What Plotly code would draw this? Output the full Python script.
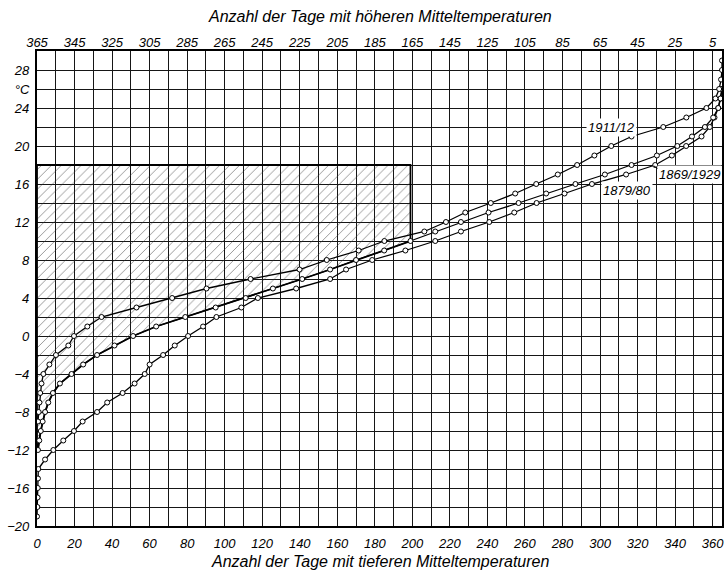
import plotly.graph_objects as go

# Mean daily temperature thresholds (°C) and number of days below each threshold
temps_1911 = list(range(-9, 30))
days_1911 = [0.5, 0.9, 1.3, 1.7, 2.4, 3.4, 6.6, 10.1, 16.7, 19.7, 26.8, 34.4, 53.0, 72.0,
             90.3, 113.8, 139.9, 154.4, 171.4, 185.1, 206.4, 217.9, 228.2, 241.8, 254.8,
             266.0, 277.5, 287.8, 297.0, 306.0, 316.8, 333.7, 346.0, 356.7, 361.5, 363.5,
             364.5, 365.0, 365.0]

temps_mean = list(range(-12, 27))
days_mean = [0.5, 1.2, 2.0, 3.0, 4.3, 6.0, 8.5, 12.2, 18.4, 24.6, 32.0, 41.3, 51.2, 63.5,
             79.0, 95.2, 111.2, 125.7, 141.3, 156.2, 170.0, 185.0, 199.0, 212.2, 225.9,
             240.6, 256.6, 271.3, 286.9, 302.6, 316.8, 330.3, 341.2, 349.0, 355.9, 360.3,
             363.0, 364.2, 365.0]

temps_1879 = list(range(-19, 27))
days_1879 = [0.0, 0.2, 0.3, 0.4, 0.5, 0.7, 4.3, 8.7, 14.0, 19.7, 24.3, 32.0, 37.4, 45.6,
             52.0, 57.4, 60.0, 67.2, 73.4, 80.5, 88.5, 95.6, 108.9, 117.7, 138.1, 156.2,
             164.7, 178.6, 196.3, 212.2, 225.9, 241.0, 254.3, 266.2, 281.1, 295.7, 313.9,
             329.4, 338.3, 345.9, 354.1, 358.5, 361.0, 363.0, 364.3, 365.0]

# Heating: room temperature and heating limit
ROOM_TEMP = 18
HEAT_LIMIT = 10

# Axis tick labels
bottom_ticks = list(range(0, 361, 20))
top_ticklabels = [str(365 - d) for d in bottom_ticks]
y_ticks = [-20, -16, -12, -8, -4, 0, 4, 8, 12, 16, 20, 24, 26, 28]
y_ticklabels = ["\u221220", "\u221216", "\u221212", "\u22128", "\u22124", "0", "4", "8",
                "12", "16", "20", "24", "°C", "28"]

FONT = dict(family="Liberation Sans Narrow, Liberation Sans, DejaVu Sans", color="black",
            style="italic")

fig = go.Figure()

# Hatched degree-day area: between room temperature and the mean curve
heat_idx = temps_mean.index(HEAT_LIMIT)
heat_days = days_mean[heat_idx]
poly_x = [0, heat_days] + days_mean[:heat_idx + 1][::-1] + [0, 0]
poly_y = [ROOM_TEMP, ROOM_TEMP] + temps_mean[:heat_idx + 1][::-1] + [temps_mean[0], ROOM_TEMP]
fig.add_trace(go.Scatter(
    x=poly_x, y=poly_y, mode="lines", fill="toself",
    fillcolor="rgba(0,0,0,0)",
    fillpattern=dict(shape="/", fgcolor="#333", bgcolor="rgba(0,0,0,0)",
                     size=7, solidity=0.14),
    line=dict(color="black", width=1.8), hoverinfo="skip", showlegend=False))

curve_style = dict(mode="lines+markers",
                   line=dict(color="black", width=1.3),
                   marker=dict(symbol="circle", size=5, color="white",
                               line=dict(color="black", width=1)),
                   showlegend=False)

for name, xs, ys in [("1879/80", days_1879, temps_1879),
                     ("1869/1929", days_mean, temps_mean),
                     ("1911/12", days_1911, temps_1911)]:
    fig.add_trace(go.Scatter(x=xs, y=ys, name=name, **curve_style))

# invisible trace to carry the upper day axis
fig.add_trace(go.Scatter(x=[0, 365], y=[0, 0], xaxis="x2", mode="markers",
                         marker=dict(opacity=0), hoverinfo="skip", showlegend=False))

grid_col = "#161616"
fig.update_layout(
    width=726, height=573,
    margin=dict(l=37, r=4, t=51, b=47, autoexpand=False),
    paper_bgcolor="white", plot_bgcolor="white",
    font=dict(size=13, **FONT),
    xaxis=dict(range=[0, 365], tickvals=bottom_ticks, ticks="",
               showgrid=True, gridcolor=grid_col, gridwidth=1.3,
               minor=dict(dtick=10, tick0=0, showgrid=True, gridcolor=grid_col, gridwidth=1.3),
               showline=True, linecolor="black", linewidth=2.2, mirror=True,
               zeroline=False, ticklabelstandoff=4,
               tickfont=dict(size=13, **FONT)),
    xaxis2=dict(range=[0, 365], overlaying="x", side="top", tickvals=bottom_ticks,
                ticktext=top_ticklabels, ticks="", showgrid=False, zeroline=False,
                showline=False, tickfont=dict(size=13, **FONT)),
    yaxis=dict(range=[-20, 30], tickvals=y_ticks, ticktext=y_ticklabels, ticks="",
               showgrid=True, gridcolor=grid_col, gridwidth=1.3,
               minor=dict(dtick=2, tick0=0, showgrid=True, gridcolor=grid_col, gridwidth=1.3),
               showline=True, linecolor="black", linewidth=2.2, mirror=True,
               zeroline=False, ticklabelstandoff=3,
               tickfont=dict(size=13, **FONT)),
)

# Axis titles
fig.add_annotation(text="Anzahl der Tage mit höheren Mitteltemperaturen",
                   xref="paper", yref="paper", x=0.5, y=1.0716, yanchor="middle",
                   showarrow=False, font=dict(size=16, **FONT))
fig.add_annotation(text="Anzahl der Tage mit tieferen Mitteltemperaturen",
                   xref="paper", yref="paper", x=0.5, y=-0.0737, yanchor="middle",
                   showarrow=False, font=dict(size=16, **FONT))

# Curve labels
fig.add_annotation(text="1911/12", x=306, y=21.9, showarrow=False,
                   font=dict(size=13, **FONT), bgcolor="white")
fig.add_annotation(text="1869/1929", x=347.5, y=17.0, showarrow=False,
                   font=dict(size=13, **FONT), bgcolor="white")
fig.add_annotation(text="1879/80", x=314.5, y=15.3, showarrow=False,
                   font=dict(size=13, **FONT), bgcolor="white")
fig.add_shape(type="line", x0=328.7, y0=17.9, x1=332.6, y1=17.4,
              line=dict(color="black", width=1))

fig.write_html("out.html")
